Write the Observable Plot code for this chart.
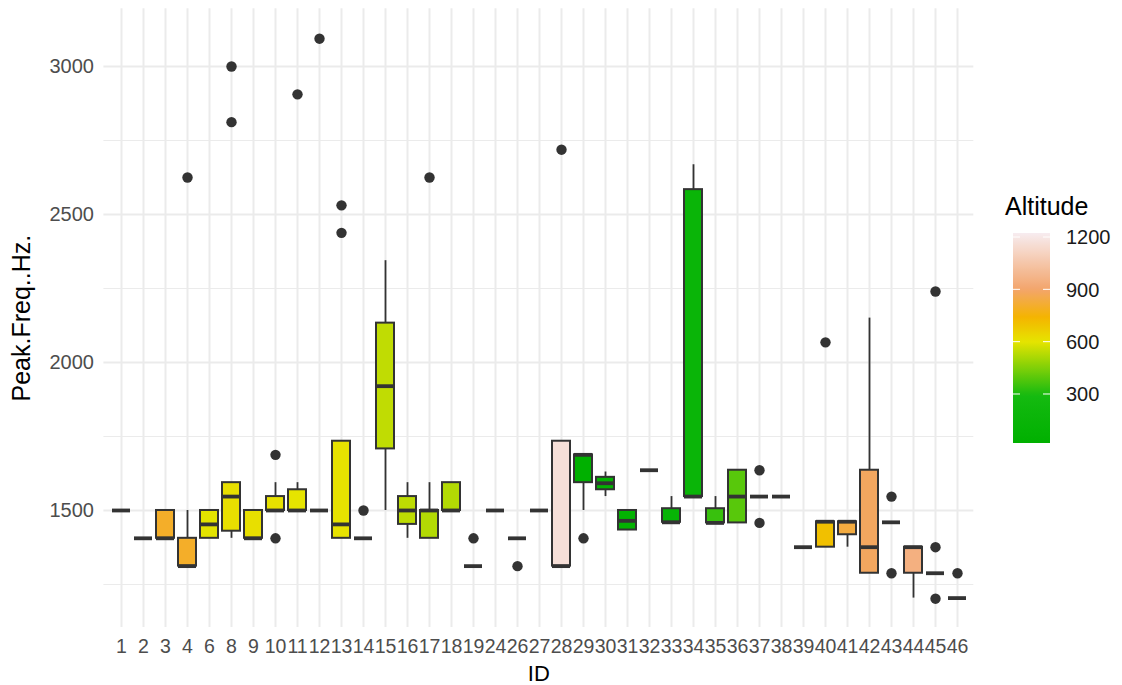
<!DOCTYPE html>
<html><head><meta charset="utf-8">
<script src="https://cdn.jsdelivr.net/npm/d3@7"></script>
<script src="https://cdn.jsdelivr.net/npm/@observablehq/plot@0.6"></script>
<style>
body{margin:0;background:#fff;}
#wrap{position:relative;width:1122px;height:685px;font-family:"Liberation Sans",Arial,sans-serif;}
#wrap svg{position:absolute;left:0;top:0;}
g[aria-label="y-axis label"] text{font-size:25px;fill:#000;}
g[aria-label="x-axis label"] text{font-size:22px;fill:#000;}
</style></head><body><div id="wrap"></div>
<script>
// ---- data ----
const ids = [1,2,3,4,6,8,9,10,11,12,13,14,15,16,17,18,19,24,26,27,28,29,30,31,32,33,34,35,36,37,38,39,40,41,42,43,44,45,46];
const altitude = [700,700,800,800,595,615,615,610,600,600,605,600,544,540,525,525,500,500,500,500,1165,19,60,60,100,120,150,343,390,300,300,700,705,835,880,900,950,950,950];
const whiskerLow  = [1500,1406,1406,1312,1406,1406,1406,1500,1500,1500,1406,1406,1500,1406,1406,1500,1312,1500,1406,1500,1312,1500,1547,1434,1636,1460,1547,1458,1458,1547,1547,1376,1376,1376,1288,1460,1204,1288,1204];
const q1          = [1500,1406,1406,1312,1406,1430,1406,1500,1500,1500,1406,1406,1708,1453,1406,1500,1312,1500,1406,1500,1312,1594,1570,1434,1636,1460,1547,1458,1458,1547,1547,1376,1376,1418,1288,1460,1288,1288,1204];
const median      = [1500,1406,1406,1312,1453,1547,1406,1500,1500,1500,1453,1406,1920,1500,1500,1500,1312,1500,1406,1500,1312,1688,1592,1465,1636,1460,1547,1458,1547,1547,1547,1376,1462,1462,1376,1460,1376,1288,1204];
const q3          = [1500,1406,1500,1406,1500,1594,1500,1547,1570,1500,1734,1406,2133,1547,1500,1594,1312,1500,1406,1500,1734,1688,1612,1500,1636,1506,2584,1506,1636,1547,1547,1376,1462,1462,1636,1460,1376,1288,1204];
const whiskerHigh = [1500,1406,1500,1500,1500,1594,1500,1594,1594,1500,1734,1406,2344,1594,1594,1594,1312,1500,1406,1500,1734,1688,1630,1500,1636,1547,2668,1547,1636,1547,1547,1376,1462,1462,2150,1460,1376,1288,1204];
const outlierIds    = [4,8,8,10,10,11,12,13,13,14,17,19,26,28,29,37,37,40,43,43,45,45,45,46];
const outlierValues = [2625,2812,3000,1688,1406,2906,3094,2531,2438,1500,2625,1406,1312,2719,1406,1636,1458,2068,1547,1288,1376,1202,2240,1288];
const yTicks = [1500,2000,2500,3000];
const yMinorTicks = [1250,1750,2250,2750];
const legendTicks = [300,600,900,1200];
const colorStops = [19,290,600,740,900,1223];
const colorRange = ["#00b000","#14ba10","#e6e400","#f4b400","#f3a56c","#f7ecf0"];

const boxes = ids.map((id,i)=>({id, alt: altitude[i], lo: whiskerLow[i], q1: q1[i], med: median[i], q3: q3[i], hi: whiskerHigh[i]}));
const outliers = outlierIds.map((id,i)=>({id, v: outlierValues[i]}));

const ink = "#333333";
const chart = Plot.plot({
  width: 1122, height: 685,
  marginLeft: 103.4, marginRight: 148.7, marginTop: 8.3, marginBottom: 58.1,
  style: {fontFamily: '"Liberation Sans", Arial, sans-serif', background: "#fff"},
  x: {type: "band", domain: ids, padding: 0.2},
  y: {domain: [1105, 3195]},
  color: {type: "linear", domain: colorStops, range: colorRange, interpolate: "rgb"},
  marks: [
    Plot.gridY(yMinorTicks, {stroke: "#ebebeb", strokeOpacity: 1, strokeWidth: 1}),
    Plot.gridY({ticks: yTicks, stroke: "#ebebeb", strokeOpacity: 1, strokeWidth: 2}),
    Plot.gridX({stroke: "#ebebeb", strokeOpacity: 1, strokeWidth: 2}),
    Plot.axisY({ticks: yTicks, tickFormat: "d", tickSize: 0, tickPadding: 10, fontSize: 20, fill: "#4d4d4d",
      label: "Peak.Freq..Hz.", labelAnchor: "center", labelOffset: 92, labelArrow: "none"}),
    Plot.axisX({tickSize: 0, tickPadding: 12, fontSize: 19.5, fill: "#4d4d4d",
      label: "ID", labelAnchor: "center", labelOffset: 54, labelArrow: "none"}),
    Plot.ruleX(boxes, {x: "id", y1: "lo", y2: "hi", stroke: ink, strokeWidth: 1.8}),
    Plot.barY(boxes, {x: "id", y1: "q1", y2: "q3", fill: "alt", stroke: ink, strokeWidth: 2}),
    Plot.tickY(boxes, {x: "id", y: "med", stroke: ink, strokeWidth: 3.8}),
    Plot.dot(outliers, {x: "id", y: "v", r: 5.2, fill: ink, stroke: "none"})
  ]
});
const wrap = document.getElementById("wrap");
wrap.appendChild(chart);

// ---- vertical colour legend ----
const cs = chart.scale("color");
const colorOf = cs && cs.apply ? (v)=>cs.apply(v) : d3.scaleLinear().domain(colorStops).range(colorRange).interpolate(d3.interpolateRgb);
const barX = 1013, barW = 37, barTop = 233, barBottom = 443;
const ly = d3.scaleLinear().domain([colorStops[0], colorStops[colorStops.length-1]]).range([barBottom, barTop]);
const leg = d3.select(wrap).append("svg").attr("width",1122).attr("height",685)
  .style("font-family",'"Liberation Sans", Arial, sans-serif');
const grad = leg.append("defs").append("linearGradient").attr("id","altgrad")
  .attr("x1",0).attr("y1",1).attr("x2",0).attr("y2",0);
d3.range(0,1.0001,0.02).forEach(t=>{
  const v = colorStops[0] + t*(colorStops[colorStops.length-1]-colorStops[0]);
  grad.append("stop").attr("offset",t).attr("stop-color",colorOf(v));
});
leg.append("text").attr("x",1005).attr("y",215).attr("font-size",25).attr("fill","#000").text("Altitude");
leg.append("rect").attr("x",barX).attr("y",barTop).attr("width",barW).attr("height",barBottom-barTop).attr("fill","url(#altgrad)");
legendTicks.forEach(t=>{
  const y = ly(t);
  leg.append("line").attr("x1",barX).attr("x2",barX+7).attr("y1",y).attr("y2",y).attr("stroke","#fff").attr("stroke-width",1);
  leg.append("line").attr("x1",barX+barW-7).attr("x2",barX+barW).attr("y1",y).attr("y2",y).attr("stroke","#fff").attr("stroke-width",1);
  leg.append("text").attr("x",1066).attr("y",y).attr("dy","0.36em").attr("font-size",20).attr("fill","#1a1a1a").text(t);
});
</script></body></html>
